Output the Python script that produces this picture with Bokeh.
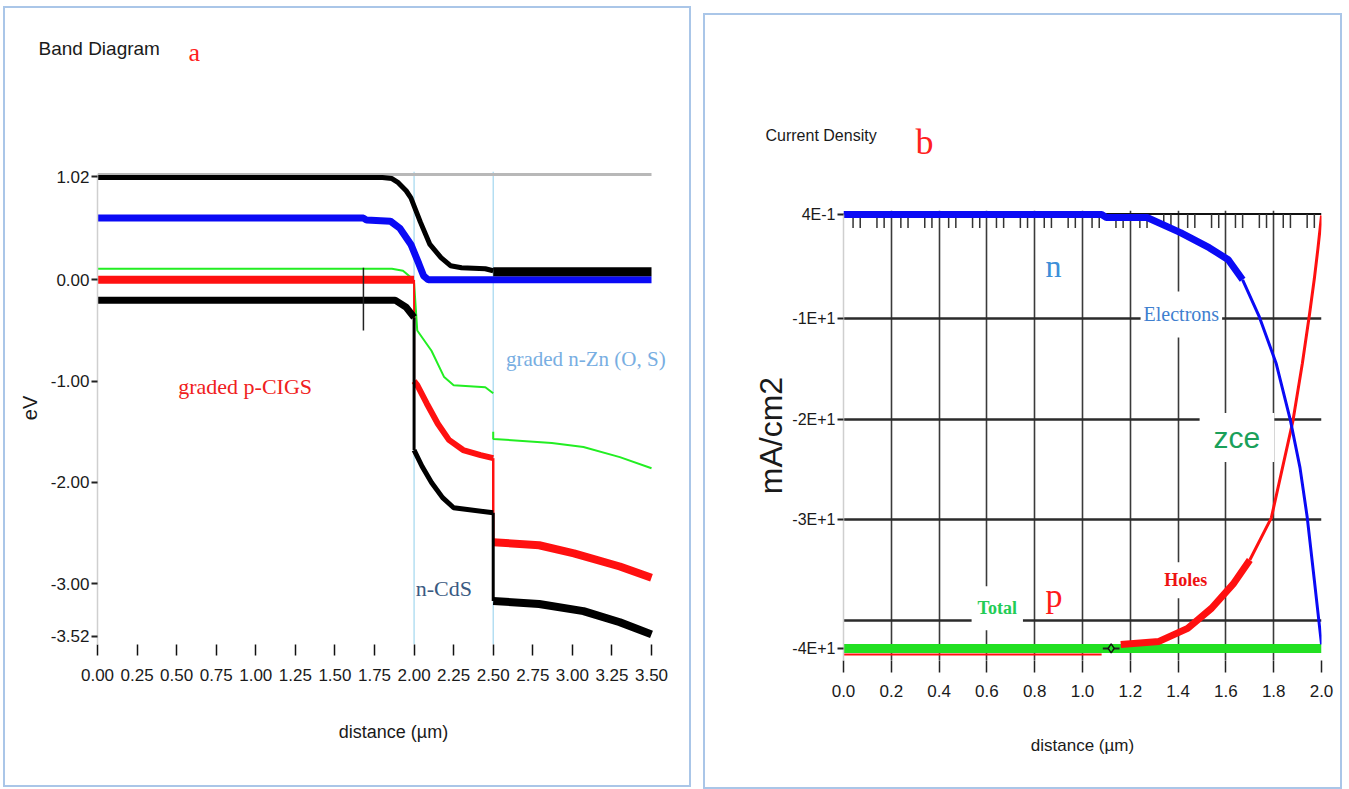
from bokeh.plotting import figure
from bokeh.models import (FixedTicker, Span, Label, CustomJSTickFormatter,
                          NumeralTickFormatter, Range1d, Spacer)
from bokeh.layouts import row, column
from bokeh.embed import file_html
from bokeh.resources import INLINE

SANS = "Liberation Sans"
SERIF = "Liberation Serif"
FRAME_CSS = {"outline": "2px solid #aac6e8", "outline-offset": "0px"}

# ---------------- Panel a : band diagram ----------------
a_xticks = [0.0, 0.25, 0.5, 0.75, 1.0, 1.25, 1.5, 1.75, 2.0, 2.25, 2.5, 2.75, 3.0, 3.25, 3.5]
a_yticks = [1.02, 0.0, -1.0, -2.0, -3.0, -3.52]
interfaces = [2.0, 2.5]
a_top = 1.04

ec_x1 = [0.00, 1.80, 1.86, 1.90, 1.95, 1.98, 2.04, 2.10, 2.17, 2.23, 2.30, 2.45, 2.50]
ec_y1 = [1.01, 1.01, 1.00, 0.96, 0.88, 0.81, 0.57, 0.35, 0.22, 0.14, 0.12, 0.11, 0.09]
ec_x2 = [2.50, 3.50]
ec_y2 = [0.08, 0.08]

efn_x = [0.00, 1.68, 1.70, 1.85, 1.91, 1.98, 2.03, 2.06, 2.09, 2.50, 3.50]
efn_y = [0.61, 0.61, 0.59, 0.58, 0.51, 0.35, 0.16, 0.04, 0.00, 0.00, 0.00]

gr_x1 = [0.00, 1.86, 1.93, 1.99, 2.00, 2.02, 2.11, 2.19, 2.25, 2.45, 2.50]
gr_y1 = [0.11, 0.11, 0.09, 0.01, -0.03, -0.50, -0.70, -0.96, -1.04, -1.06, -1.12]
gr_x2 = [2.50, 2.50, 2.87, 3.07, 3.30, 3.50]
gr_y2 = [-1.50, -1.57, -1.61, -1.65, -1.75, -1.86]

efp_x1 = [0.00, 2.00]
efp_y1 = [0.00, 0.00]
efp_xv1 = [2.00, 2.00]
efp_yv1 = [0.00, -1.04]
efp_x2 = [2.00, 2.02, 2.08, 2.15, 2.22, 2.31, 2.42, 2.50]
efp_y2 = [-1.00, -1.04, -1.22, -1.42, -1.58, -1.68, -1.73, -1.76]
efp_xv2 = [2.50, 2.50]
efp_yv2 = [-1.76, -2.59]
efp_x3 = [2.50, 2.79, 3.01, 3.30, 3.50]
efp_y3 = [-2.59, -2.62, -2.70, -2.83, -2.94]

ev_x1 = [0.00, 1.88, 1.95, 2.00]
ev_y1 = [-0.20, -0.20, -0.27, -0.37]
ev_xv1 = [2.00, 2.00]
ev_yv1 = [-0.37, -1.68]
ev_x2 = [2.00, 2.05, 2.11, 2.18, 2.25, 2.50]
ev_y2 = [-1.68, -1.84, -2.00, -2.15, -2.25, -2.30]
ev_xv2 = [2.50, 2.50]
ev_yv2 = [-2.30, -3.17]
ev_x3 = [2.50, 2.79, 3.07, 3.30, 3.50]
ev_y3 = [-3.17, -3.20, -3.27, -3.38, -3.50]

mark_x = 1.68
mark_y0, mark_y1 = 0.12, -0.50


def header(width, height):
    h = figure(width=width, height=height, x_range=Range1d(0, width), y_range=Range1d(height, 0),
               x_axis_type=None, y_axis_type=None, output_backend="svg", toolbar_location=None,
               min_border=0, min_border_left=0, min_border_right=0, min_border_top=0,
               min_border_bottom=0)
    h.frame_align = False
    h.outline_line_color = None
    h.grid.visible = False
    h.background_fill_color = "white"
    h.border_fill_color = "white"
    return h


def lab(p, x, y, text, color, font, size, style="normal", bg=None, pad=None):
    kw = dict(x=x, y=y, text=text, text_color=color, text_font=font,
              text_font_size=f"{size}px", text_font_style=style,
              text_align="left", text_baseline="alphabetic")
    if bg is not None:
        kw["background_fill_color"] = bg
        kw["padding"] = pad
    p.add_layout(Label(**kw))


ha = header(684, 151)
lab(ha, 33, 40, "Band Diagram", "#1a1a1a", SANS, 19)
lab(ha, 183, 44, "a", "#ff2020", SERIF, 26)

pa = figure(width=684, height=626, x_range=Range1d(0, 3.74), y_range=Range1d(-3.60, 1.07),
            output_backend="svg", toolbar_location=None,
            min_border_left=92, min_border_right=0, min_border_top=12, min_border_bottom=141)
pa.frame_align = False
pa.outline_line_color = None
pa.grid.visible = False
pa.background_fill_color = "white"
pa.border_fill_color = "white"

xa = pa.xaxis[0]
xa.ticker = FixedTicker(ticks=a_xticks)
xa.formatter = NumeralTickFormatter(format="0.00")
xa.axis_line_color = None
xa.major_tick_in = 0
xa.major_tick_out = 11
xa.major_tick_line_color = "#111111"
xa.major_tick_line_width = 1.5
xa.minor_tick_line_color = None
xa.major_label_text_font = SANS
xa.major_label_text_font_size = "17px"
xa.major_label_text_color = "#1a1a1a"
xa.major_label_standoff = 13
xa.axis_label = "distance (µm)"
xa.axis_label_text_font = SANS
xa.axis_label_text_font_size = "18px"
xa.axis_label_text_font_style = "normal"
xa.axis_label_text_color = "#1a1a1a"
xa.axis_label_standoff = 38

ya = pa.yaxis[0]
ya.ticker = FixedTicker(ticks=a_yticks)
ya.formatter = NumeralTickFormatter(format="0.00")
ya.bounds = (-3.60, a_top)
ya.axis_line_color = "#cfcfcf"
ya.axis_line_width = 1.5
ya.major_tick_in = 0
ya.major_tick_out = 6
ya.major_tick_line_color = "#222222"
ya.major_tick_line_width = 2
ya.minor_tick_line_color = None
ya.major_label_text_font = SANS
ya.major_label_text_font_size = "17px"
ya.major_label_text_color = "#1a1a1a"
ya.major_label_standoff = 2
ya.axis_label = "eV"
ya.axis_label_text_font = SANS
ya.axis_label_text_font_size = "20px"
ya.axis_label_text_font_style = "normal"
ya.axis_label_text_color = "#1a1a1a"
ya.axis_label_standoff = 7

pa.segment(x0=[a_xticks[0]], y0=[a_top], x1=[a_xticks[-1]], y1=[a_top],
           line_color="#b8b8b8", line_width=3)

for loc in interfaces:
    pa.add_layout(Span(location=loc, dimension="height", line_color="#a9daf0", line_width=1.3,
                       level="underlay"))

GREEN_A = "#22ee22"
RED = "#ff1010"
BLUE = "#0a0af5"
BLACK = "#000000"

pa.line(gr_x1, gr_y1, line_color=GREEN_A, line_width=2)
pa.line(gr_x2, gr_y2, line_color=GREEN_A, line_width=2)
pa.line(efp_x1, efp_y1, line_color=RED, line_width=8)
pa.line(efp_xv1, efp_yv1, line_color=RED, line_width=2)
pa.line(efp_x2, efp_y2, line_color=RED, line_width=6)
pa.line(efp_xv2, efp_yv2, line_color=RED, line_width=2.5)
pa.line(efp_x3, efp_y3, line_color=RED, line_width=8)
pa.line(efn_x, efn_y, line_color=BLUE, line_width=7)
pa.line(ec_x1, ec_y1, line_color=BLACK, line_width=5)
pa.line(ec_x2, ec_y2, line_color=BLACK, line_width=9)
pa.line(ev_x1, ev_y1, line_color=BLACK, line_width=7)
pa.line(ev_xv1, ev_yv1, line_color=BLACK, line_width=3)
pa.line(ev_x2, ev_y2, line_color=BLACK, line_width=5)
pa.line(ev_xv2, ev_yv2, line_color=BLACK, line_width=3)
pa.line(ev_x3, ev_y3, line_color=BLACK, line_width=8)
pa.segment(x0=[mark_x], y0=[mark_y0], x1=[mark_x], y1=[mark_y1], line_color="#222222",
           line_width=1.5)

lab(pa, 0.51, -1.05, "graded p-CIGS", "#f02020", SERIF, 22)
lab(pa, 2.58, -0.78, "graded n-Zn (O, S)", "#78aee2", SERIF, 21)
lab(pa, 2.01, -3.05, "n-CdS", "#3a5a82", SERIF, 22)

# ---------------- Panel b : current density ----------------
b_xticks = [0.0, 0.2, 0.4, 0.6, 0.8, 1.0, 1.2, 1.4, 1.6, 1.8, 2.0]
b_xgrid = [0.2, 0.4, 0.6, 0.8, 1.0, 1.2, 1.4, 1.6, 1.8, 2.0]
b_yticks = [0.4, -10.0, -20.0, -30.0, -42.8]
b_ytick_labels = ["4E-1", "-1E+1", "-2E+1", "-3E+1", "-4E+1"]
b_ygrid = [-10.0, -20.0, -30.0, -40.0]
b_top = 0.45
b_mesh_len = 1.4
b_mesh = sorted([round(0.1 * k + d, 3) for k in range(20) for d in (0.04, 0.07)])

jt_x = [0.00, 2.00]
jt_y = [-42.8, -42.8]
jp_x0 = [0.00, 1.08]
jp_y0 = [-43.4, -43.4]
jp_x1 = [1.16, 1.32, 1.44, 1.54, 1.63, 1.70]
jp_y1 = [-42.4, -42.1, -40.8, -38.8, -36.4, -34.0]
jp_x2 = [1.70, 1.79, 1.88, 1.92, 1.95, 1.97, 1.985, 2.00]
jp_y2 = [-34.0, -29.8, -20.2, -14.4, -9.5, -6.0, -3.0, 0.3]
jn_x1 = [0.00, 1.08, 1.10, 1.27, 1.41, 1.53, 1.61, 1.67]
jn_y1 = [0.4, 0.4, 0.1, 0.1, -1.4, -2.9, -4.1, -6.1]
jn_x2 = [1.67, 1.74, 1.81, 1.87, 1.91, 1.94, 1.97, 2.00]
jn_y2 = [-6.1, -9.8, -14.4, -20.1, -24.8, -29.7, -36.0, -42.4]
tot_mark_x = 1.12
tot_mark_y = -42.8

hb = header(635, 183)
lab(hb, 60, 120, "Current Density", "#1a1a1a", SANS, 16)
lab(hb, 210, 126, "b", "#ff2020", SERIF, 36)

pb = figure(width=635, height=589, x_range=Range1d(0, 2.0), y_range=Range1d(-44.0, 0.8),
            output_backend="svg", toolbar_location=None,
            min_border_left=138, min_border_right=19, min_border_top=12, min_border_bottom=127)
pb.frame_align = False
pb.outline_line_color = None
pb.background_fill_color = "white"
pb.border_fill_color = "white"
pb.xgrid.ticker = FixedTicker(ticks=b_xgrid)
pb.xgrid.grid_line_color = "#3a3a3a"
pb.xgrid.grid_line_width = 1.6
pb.ygrid.ticker = FixedTicker(ticks=b_ygrid)
pb.ygrid.grid_line_color = "#2b2b2b"
pb.ygrid.grid_line_width = 2.5

xb = pb.xaxis[0]
xb.ticker = FixedTicker(ticks=b_xticks)
xb.formatter = NumeralTickFormatter(format="0.0")
xb.axis_line_color = None
xb.major_tick_in = 0
xb.major_tick_out = 12
xb.major_tick_line_color = "#222222"
xb.major_tick_line_width = 1.5
xb.minor_tick_line_color = None
xb.major_label_text_font = SANS
xb.major_label_text_font_size = "17px"
xb.major_label_text_color = "#1a1a1a"
xb.major_label_standoff = 12
xb.axis_label = "distance (µm)"
xb.axis_label_text_font = SANS
xb.axis_label_text_font_size = "17px"
xb.axis_label_text_font_style = "normal"
xb.axis_label_text_color = "#1a1a1a"
xb.axis_label_standoff = 36

yb = pb.yaxis[0]
yb.ticker = FixedTicker(ticks=b_yticks)
yb.formatter = CustomJSTickFormatter(
    args=dict(vals=b_yticks, labs=b_ytick_labels),
    code="const i = vals.findIndex(v => Math.abs(v - tick) < 1e-6); return i >= 0 ? labs[i] : '';")
yb.bounds = (-44.0, b_top)
yb.axis_line_color = "#cfcfcf"
yb.axis_line_width = 1.5
yb.major_tick_in = 0
yb.major_tick_out = 6
yb.major_tick_line_color = "#222222"
yb.major_tick_line_width = 2
yb.minor_tick_line_color = None
yb.major_label_text_font = SANS
yb.major_label_text_font_size = "16px"
yb.major_label_text_color = "#1a1a1a"
yb.major_label_standoff = 2
yb.axis_label = "mA/cm2"
yb.axis_label_text_font = SANS
yb.axis_label_text_font_size = "32px"
yb.axis_label_text_font_style = "normal"
yb.axis_label_text_color = "#1a1a1a"
yb.axis_label_standoff = 0

# top border with the mesh ticks hanging from it
pb.segment(x0=[b_xticks[0]], y0=[b_top], x1=[b_xticks[-1]], y1=[b_top],
           line_color="#111111", line_width=2)
pb.segment(x0=b_mesh, y0=[b_top] * len(b_mesh), x1=b_mesh, y1=[b_top - b_mesh_len] * len(b_mesh),
           line_color="#333333", line_width=1.5)

GREEN_B = "#22e022"
pb.line(jp_x0, jp_y0, line_color=RED, line_width=2)
pb.line(jt_x, jt_y, line_color=GREEN_B, line_width=9)
pb.line(jp_x1, jp_y1, line_color=RED, line_width=7)
pb.line(jp_x2, jp_y2, line_color=RED, line_width=3)
pb.line(jn_x1, jn_y1, line_color=BLUE, line_width=7)
pb.line(jn_x2, jn_y2, line_color=BLUE, line_width=3)
pb.segment(x0=[tot_mark_x - 0.035], y0=[tot_mark_y], x1=[tot_mark_x + 0.035], y1=[tot_mark_y],
           line_color="#222222", line_width=2)
pb.scatter([tot_mark_x], [tot_mark_y], marker="diamond", size=9, line_color="#111111",
           fill_color=GREEN_B, line_width=1.5)

lab(pb, 0.845, -4.77, "n", "#3d8fd8", SERIF, 32)
lab(pb, 1.243, -9.55, "Electrons", "#3f7fcf", SERIF, 20, bg="white", pad=dict(x=3, y=12))
lab(pb, 1.49, -21.8, "zce", "#1aa05a", SANS, 30, bg="white", pad=dict(x=14, y=8))
lab(pb, 1.33, -36.0, "Holes", "#ee1111", SERIF, 18, "bold", bg="white", pad=dict(x=3, y=8))
lab(pb, 0.536, -38.8, "Total", "#22cc55", SERIF, 18, "bold", bg="white", pad=dict(x=6, y=12))
lab(pb, 0.845, -37.5, "p", "#ff1a1a", SERIF, 34)

col_a = column(ha, pa, styles=FRAME_CSS)
col_b = column(hb, pb, styles=FRAME_CSS)
wrap_a = column(Spacer(width=10, height=8), col_a)
wrap_b = column(Spacer(width=10, height=15), col_b)
layout = row(Spacer(width=5, height=10), wrap_a, Spacer(width=16, height=10), wrap_b)
open("out.html", "w").write(file_html(layout, INLINE))
